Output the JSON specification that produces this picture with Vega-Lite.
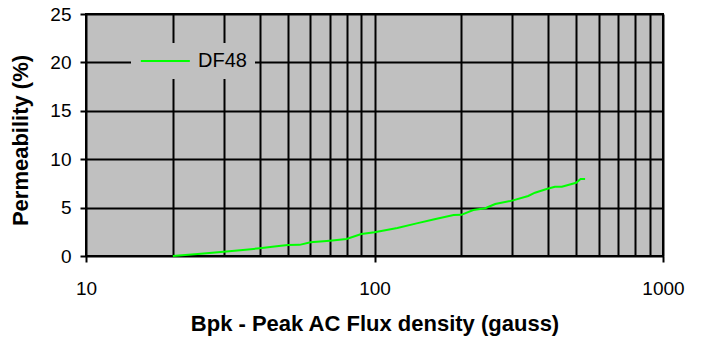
{
  "$schema": "https://vega.github.io/schema/vega-lite/v6.json",
  "width": 577,
  "height": 242,
  "autosize": {"type": "none"},
  "padding": {"left": 86, "top": 14, "right": 41, "bottom": 84},
  "background": "#FFFFFF",
  "config": {
    "font": "Liberation Sans",
    "view": {"fill": "#C0C0C0", "stroke": "#000000", "strokeWidth": 2}
  },
  "data": {
    "values": [
      {"flux": 20, "perm": 0, "series": "DF48"},
      {"flux": 25, "perm": 0.22, "series": "DF48"},
      {"flux": 30, "perm": 0.45, "series": "DF48"},
      {"flux": 35, "perm": 0.62, "series": "DF48"},
      {"flux": 40, "perm": 0.8, "series": "DF48"},
      {"flux": 45, "perm": 0.97, "series": "DF48"},
      {"flux": 50, "perm": 1.14, "series": "DF48"},
      {"flux": 55, "perm": 1.15, "series": "DF48"},
      {"flux": 60, "perm": 1.41, "series": "DF48"},
      {"flux": 70, "perm": 1.58, "series": "DF48"},
      {"flux": 80, "perm": 1.76, "series": "DF48"},
      {"flux": 90, "perm": 2.27, "series": "DF48"},
      {"flux": 100, "perm": 2.45, "series": "DF48"},
      {"flux": 120, "perm": 2.9, "series": "DF48"},
      {"flux": 140, "perm": 3.37, "series": "DF48"},
      {"flux": 160, "perm": 3.78, "series": "DF48"},
      {"flux": 188, "perm": 4.24, "series": "DF48"},
      {"flux": 200, "perm": 4.25, "series": "DF48"},
      {"flux": 220, "perm": 4.75, "series": "DF48"},
      {"flux": 242, "perm": 4.93, "series": "DF48"},
      {"flux": 262, "perm": 5.37, "series": "DF48"},
      {"flux": 300, "perm": 5.72, "series": "DF48"},
      {"flux": 341, "perm": 6.2, "series": "DF48"},
      {"flux": 360, "perm": 6.54, "series": "DF48"},
      {"flux": 395, "perm": 6.92, "series": "DF48"},
      {"flux": 422, "perm": 7.16, "series": "DF48"},
      {"flux": 446, "perm": 7.16, "series": "DF48"},
      {"flux": 500, "perm": 7.57, "series": "DF48"},
      {"flux": 518, "perm": 7.95, "series": "DF48"},
      {"flux": 537, "perm": 7.95, "series": "DF48"}
    ]
  },
  "mark": {"type": "line", "strokeWidth": 2, "interpolate": "linear"},
  "encoding": {
    "x": {
      "field": "flux",
      "type": "quantitative",
      "scale": {"type": "log", "domain": [10, 1000], "nice": false},
      "axis": {
        "title": "Bpk - Peak AC Flux density (gauss)",
        "titleFont": "Liberation Sans",
        "titleFontSize": 22,
        "titleFontWeight": "bold",
        "titleColor": "#000000",
        "titleBaseline": "alphabetic",
        "titleY": 74,
        "values": [10, 20, 30, 40, 50, 60, 70, 80, 90, 100, 200, 300, 400, 500, 600, 700, 800, 900, 1000],
        "labelExpr": "indexof([10, 100, 1000], datum.value) >= 0 ? format(datum.value, 'd') : ''",
        "labelFontSize": 19,
        "labelColor": "#000000",
        "labelPadding": 17,
        "labelFlush": false,
        "labelOverlap": false,
        "domain": false,
        "grid": true,
        "gridColor": "#000000",
        "gridWidth": 2,
        "gridOpacity": 1,
        "ticks": true,
        "tickSize": 6,
        "tickWidth": 2,
        "tickColor": "#000000",
        "tickOpacity": {"condition": {"test": "indexof([10, 100, 1000], datum.value) >= 0", "value": 1}, "value": 0}
      }
    },
    "y": {
      "field": "perm",
      "type": "quantitative",
      "scale": {"domain": [0, 25], "nice": false},
      "axis": {
        "title": "Permeability (%)",
        "titleFont": "Liberation Sans",
        "titleFontSize": 22,
        "titleFontWeight": "bold",
        "titleColor": "#000000",
        "titleBaseline": "alphabetic",
        "titleX": -59,
        "titleY": 126,
        "values": [0, 5, 10, 15, 20, 25],
        "labelFontSize": 19,
        "labelColor": "#000000",
        "labelPadding": 9,
        "labelFlush": false,
        "domain": false,
        "grid": true,
        "gridColor": "#000000",
        "gridWidth": 2,
        "gridOpacity": 1,
        "tickSize": 6,
        "tickWidth": 2,
        "tickColor": "#000000"
      }
    },
    "color": {
      "field": "series",
      "type": "nominal",
      "scale": {"domain": ["DF48"], "range": ["#00FF00"]},
      "legend": {
        "title": null,
        "orient": "none",
        "legendX": 45,
        "legendY": 29,
        "fillColor": "#C0C0C0",
        "padding": 8,
        "symbolType": "M-1,0H5",
        "symbolSize": 267,
        "symbolStrokeWidth": 2,
        "labelFont": "Liberation Sans",
        "labelFontSize": 20,
        "labelColor": "#000000",
        "labelOffset": 39
      }
    }
  }
}
